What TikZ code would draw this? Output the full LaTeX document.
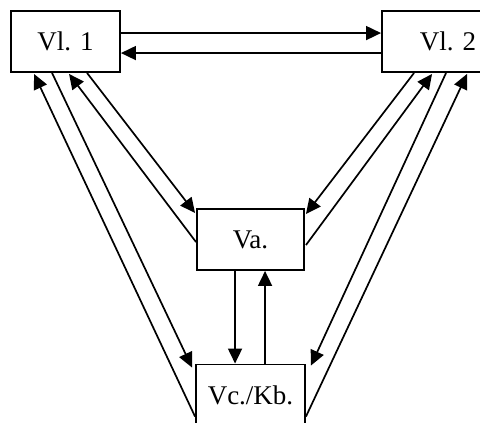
\documentclass[tikz,border=0pt]{standalone}
\usepackage{fontspec}
\setmainfont{Liberation Serif}
\usetikzlibrary{arrows.meta,calc}
\begin{document}
\begin{tikzpicture}[x=1pt,y=-1pt,
  part/.style={draw, line width=1.9pt, rectangle, inner sep=0pt,
    minimum height=61pt, font=\fontsize{27}{32}\selectfont},
  flow/.style={line width=1.7pt, -{Triangle[length=15pt,width=14pt]}}]
\useasboundingbox (0,0) rectangle (480,423);
\clip (0,0) rectangle (480,423);

% the four instrument parts
\node[part, minimum width=109pt] (v1) at (65.5,41.5) {Vl. 1};
\node[part, minimum width=132pt] (v2) at (448,41.5) {Vl. 2};
\node[part, minimum width=107pt] (va) at (250.5,239.5) {Va.};
\node[part, minimum width=109pt] (vc) at (250.5,395) {Vc./Kb.};

% violins exchange
\draw[flow] ($(v1.north east)+(0,23)$) -- ($(v2.north west)+(0,23)$);
\draw[flow] ($(v2.north west)+(0,43)$) -- ($(v1.north east)+(0,43)$);

% first violin with viola and bass
\draw[flow] ($(vc.north west)+(0,53)$) -- ($(v1.south west)+(24,1)$);
\draw[flow] ($(v1.south west)+(42,0)$) -- ($(vc.north west)+(-3,4)$);
\draw[flow] ($(va.north west)+(0,34)$) -- ($(v1.south west)+(59,1)$);
\draw[flow] ($(v1.south west)+(77,0)$) -- ($(va.north west)+(-1,5)$);

% second violin with viola and bass
\draw[flow] ($(v2.south west)+(33,0)$) -- ($(va.north east)+(1,6)$);
\draw[flow] ($(va.north east)+(1,37)$) -- ($(v2.south west)+(51,1)$);
\draw[flow] ($(v2.south west)+(65,0)$) -- ($(vc.north east)+(5,2)$);
\draw[flow] ($(vc.north east)+(0,53)$) -- ($(v2.south west)+(86,1)$);

% viola and bass
\draw[flow] ($(va.south west)+(39,0)$) -- ($(vc.north west)+(40,0)$);
\draw[flow] ($(vc.north west)+(70,0)$) -- ($(va.south west)+(69,0)$);
\end{tikzpicture}
\end{document}
